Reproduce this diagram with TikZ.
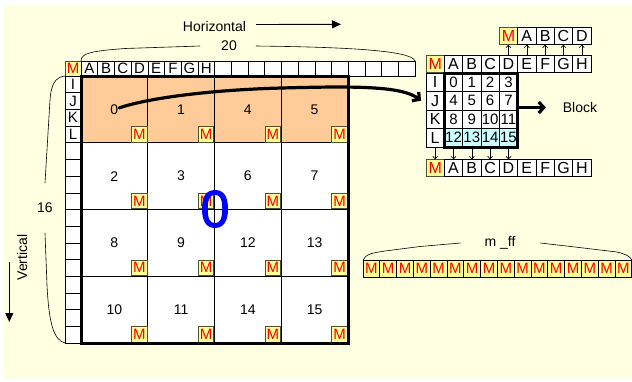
\documentclass[tikz,border=0pt]{standalone}
\usepackage{fontspec}
\setmainfont{Liberation Sans}
\newfontfamily\zerofont[FakeBold=2]{Liberation Sans}
\usetikzlibrary{arrows.meta}

\definecolor{paper}{RGB}{255,255,225}
\definecolor{peach}{RGB}{255,204,153}
\definecolor{markfill}{RGB}{255,255,153}
\definecolor{lastrow}{RGB}{204,255,255}
\definecolor{markred}{RGB}{255,0,0}
\definecolor{markedge}{RGB}{80,80,50}

\newcommand{\pxfont}[1]{\fontsize{#1}{#1}\selectfont}

\begin{document}
\begin{tikzpicture}[x=1pt, y=-1pt,
  every node/.style={inner sep=0pt, outer sep=0pt},
  plaincell/.style={draw=black, line width=0.6pt, fill=white},
  mstyle/.style={draw=markedge, line width=0.7pt, fill=markfill, text=markred},
  hcell/.style={plaincell, minimum width=16.7pt, minimum height=15pt, font=\pxfont{15}},
  vcell/.style={plaincell, minimum width=16pt, minimum height=16.69pt, font=\pxfont{15}},
  bigblock/.style={draw=black, line width=1.4pt, minimum size=66.75pt},
  bnum/.style={font=\pxfont{14}},
  mbox/.style={mstyle, minimum size=15.5pt, font=\pxfont{15}},
  rcell/.style={plaincell, minimum width=18.33pt, minimum height=17.5pt, font=\pxfont{16}},
  ncell/.style={plaincell, minimum width=18.33pt, minimum height=18.5pt, font=\pxfont{15}},
  ffcell/.style={mstyle, draw=black, minimum width=16.8pt, minimum height=17pt, font=\pxfont{15}},
  caption/.style={font=\pxfont{14}},
  bracepath/.style={draw=black, line width=0.6pt},
  tinyarrow/.style={draw=black, line width=0.6pt, -{Straight Barb[length=2.5pt,width=5pt]}},
  fatarrow/.style={draw=black, line width=3.2pt, line cap=round, -{Straight Barb[length=5pt,width=11pt]}},
  thinarrow/.style={draw=black, line width=0.9pt, -{Triangle[length=9pt,width=8pt]}},
]
\useasboundingbox (0,0) rectangle (632,381);
\fill[paper] (4,5) rectangle (632,378);

% ---- main array: column header
\node[mstyle, minimum width=16pt, minimum height=15pt, font=\pxfont{15}] (corner) at (73,68.5) {M};
\foreach \i/\t in {1/A,2/B,3/C,4/D,5/E,6/F,7/G,8/H}
  \node[hcell] (h\i) at ({81+(\i-0.5)*16.7},68.5) {\t};
\foreach \i in {9,...,20}
  \node[hcell] (h\i) at ({81+(\i-0.5)*16.7},68.5) {};
% ---- main array: row header
\foreach \j/\t in {1/I,2/J,3/K,4/L}
  \node[vcell] (v\j) at (73,{76+(\j-0.5)*16.6875}) {\t};
\foreach \j in {5,...,16}
  \node[vcell] (v\j) at (73,{76+(\j-0.5)*16.6875}) {};

% ---- 4x4 blocks
\foreach \c/\n in {0/0,1/1,2/4,3/5}
  \node[bigblock, fill=peach] (b\n) at ({81+(\c+0.5)*66.75},{76+0.5*66.75}) {};
\foreach \r/\c/\n in {1/0/2,1/1/3,1/2/6,1/3/7,2/0/8,2/1/9,2/2/12,2/3/13,3/0/10,3/1/11,3/2/14,3/3/15}
  \node[bigblock, fill=white] (b\n) at ({81+(\c+0.5)*66.75},{76+(\r+0.5)*66.75}) {};
\foreach \n in {0,...,15} {
  \node[bnum] (n\n) at (b\n.center) {\n};
  \node[mbox] (m\n) at ([xshift=-8.5pt,yshift=8.5pt]b\n.south east) {M};
}
\draw[line width=3pt] (b0.north west) rectangle (b15.south east);

\node[text=blue, font=\zerofont\pxfont{52}] (bigzero) at (215,209) {0};

% ---- one block, enlarged
\node[rcell, mstyle] (r0) at (435.17,64) {M};
\foreach \k/\t in {1/A,2/B,3/C,4/D,5/E,6/F,7/G,8/H}
  \node[rcell] (r\k) at ({435.17+\k*18.33},64) {\t};
\node[rcell, mstyle] (t4) at ({435.17+4*18.33},36) {M};
\foreach \k/\t in {5/A,6/B,7/C,8/D}
  \node[rcell] (t\k) at ({435.17+\k*18.33},36) {\t};
\foreach \j/\t in {1/I,2/J,3/K,4/L}
  \node[ncell, font=\pxfont{16}] (rl\j) at (435.17,{73+(\j-0.5)*18.5}) {\t};
\foreach \n in {0,...,15} {
  \pgfmathtruncatemacro{\cc}{mod(\n,4)}
  \pgfmathtruncatemacro{\rr}{\n/4}
  \ifnum\rr=3 \def\cellfill{lastrow}\else\def\cellfill{white}\fi
  \node[ncell, fill=\cellfill] (c\n) at ({435.17+(\cc+1)*18.33},{73+(\rr+0.5)*18.5}) {\n};
}
\node[draw=black, line width=3pt, minimum width=73.33pt, minimum height=74pt] (frame) at (480.83,110) {};
\node[rcell, mstyle] (u0) at (435.17,168) {M};
\foreach \k/\t in {1/A,2/B,3/C,4/D,5/E,6/F,7/G,8/H}
  \node[rcell] (u\k) at ({435.17+\k*18.33},168) {\t};

\foreach \k in {4,...,8}
  \draw[tinyarrow] (r\k.north) -- (t\k.south);
\draw[tinyarrow] (rl4.south) -- (u0.north);
\foreach \n/\k in {12/1,13/2,14/3,15/4}
  \draw[tinyarrow] (c\n.south) -- (u\k.north);

\node[caption] (blocktxt) at (580,107.5) {Block};
\draw[fatarrow] (frame.east |- blocktxt.west) -- ([xshift=-17pt]blocktxt.west);

% ---- block 0 moves into the enlarged view
\draw[fatarrow] ([xshift=1pt,yshift=1.5pt]n0.east) .. controls (145,99) and (205,90) .. (282,88)
  .. controls (355,86) and (402,86) .. ([xshift=-5pt]rl2.west);

% ---- axis captions and extents
\node[caption] (hz) at (214.5,26) {Horizontal};
\coordinate (hzend) at (341,24.3);
\draw[thinarrow] ([xshift=10pt,yshift=1.5pt]hz.east) -- (hzend);

\node[caption, rotate=90] (vt) at (22,257.5) {Vertical};
\coordinate (vtop) at (9.3,262);
\coordinate (vbot) at (9.3,322);
\draw[thinarrow] (vtop) -- (vbot);

\node[caption] (w20) at (229,46) {20};
\draw[bracepath] (h1.north west) .. controls (81,53) and (92,51) .. (125,48.5) -- ([xshift=-21pt]w20.west);
\draw[bracepath] ([xshift=19pt]w20.east) .. controls (340,47) and (412,50) .. (h20.north east);

\node[caption] (w16) at (45,208) {16};
\draw[bracepath] (v1.north west) .. controls (55,77) and (51,85) .. (50,100) -- ([yshift=20pt]w16.north);
\draw[bracepath] ([yshift=-20pt]w16.south) -- (47,285) .. controls (49,325) and (54,340) .. (v16.south west);

% ---- flag row
\foreach \k in {1,...,16}
  \node[ffcell] (f\k) at ({363+(\k-0.5)*16.8},268.5) {M};
\node[caption] (wff) at (500,243) {m \_ff};
\draw[bracepath] (f1.north west) .. controls (366,254) and (372,253) .. (385,251) -- (420,246.5) -- ([xshift=-24pt]wff.west);
\draw[bracepath] ([xshift=25pt]wff.east) -- (575,247) -- (617,252) .. controls (625,254) and (630,256) .. (f16.north east);
\end{tikzpicture}
\end{document}
